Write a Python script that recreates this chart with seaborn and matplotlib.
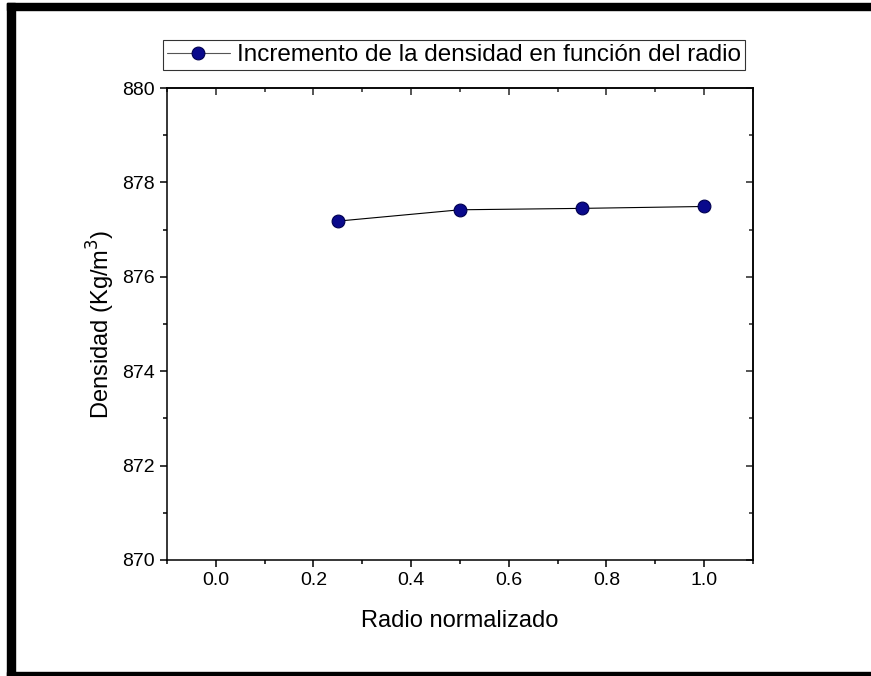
import matplotlib
matplotlib.use("Agg")
import matplotlib.pyplot as plt
import seaborn as sns
from matplotlib.patches import Rectangle
from matplotlib.ticker import MultipleLocator

# datos
radio = [0.25, 0.50, 0.75, 1.00]
densidad = [877.18, 877.42, 877.45, 877.49]
etiqueta = "Incremento de la densidad en función del radio"

sns.set_theme(style="ticks")
plt.rcParams["font.family"] = ["Liberation Sans", "DejaVu Sans"]
plt.rcParams["text.color"] = "black"
plt.rcParams["axes.labelcolor"] = "black"

fig = plt.figure(figsize=(8.71, 6.76), dpi=100)
ax = fig.add_axes([0.1917, 0.1716, 0.6728, 0.6982])

sns.lineplot(x=radio, y=densidad, ax=ax, color="black", linewidth=0.8,
             marker="o", markersize=9.2, markerfacecolor="#0a0a8c",
             markeredgecolor="#000050", markeredgewidth=0.8, label=etiqueta)

ax.set_xlim(-0.1, 1.1)
ax.set_ylim(870, 880)
ax.xaxis.set_major_locator(MultipleLocator(0.2))
ax.xaxis.set_minor_locator(MultipleLocator(0.1))
ax.yaxis.set_major_locator(MultipleLocator(2))
ax.yaxis.set_minor_locator(MultipleLocator(1))
ax.set_xticks([0.0, 0.2, 0.4, 0.6, 0.8, 1.0])
ax.set_xticklabels(["0.0", "0.2", "0.4", "0.6", "0.8", "1.0"])

for s in ax.spines.values():
    s.set_visible(True)
    s.set_linewidth(1.1)
    s.set_color("black")

ax.tick_params(which="both", direction="out", width=1.1, color="black",
               labelsize=14, labelcolor="black")
ax.tick_params(which="major", length=5)
ax.tick_params(which="minor", length=3)

# marcas espejo hacia dentro en arriba y derecha
ax_top = ax.secondary_xaxis("top")
ax_top.xaxis.set_major_locator(MultipleLocator(0.2))
ax_top.xaxis.set_minor_locator(MultipleLocator(0.1))
ax_top.tick_params(which="both", direction="in", width=1.1, labeltop=False)
ax_top.tick_params(which="major", length=5)
ax_top.tick_params(which="minor", length=3)
ax_right = ax.secondary_yaxis("right")
ax_right.yaxis.set_major_locator(MultipleLocator(2))
ax_right.yaxis.set_minor_locator(MultipleLocator(1))
ax_right.tick_params(which="both", direction="in", width=1.1, labelright=False)
ax_right.tick_params(which="major", length=5)
ax_right.tick_params(which="minor", length=3)

ax.set_xlabel("Radio normalizado", fontsize=17, labelpad=15)
ax.set_ylabel("Densidad (Kg/m$^3$)", fontsize=17, labelpad=4)

leg = ax.legend(loc="lower center", bbox_to_anchor=(0.49, 1.0), fontsize=17.5,
                frameon=True, fancybox=False, edgecolor="black",
                handlelength=2.6, handletextpad=0.3, borderpad=0.15,
                borderaxespad=0.75)
leg.get_frame().set_linewidth(0.8)
leg.get_lines()[0].set_color("#555555")

# marco negro del recuadro
fig.patches.append(Rectangle((7 / 871, 1 - 10 / 676), 864 / 871, 7 / 676,
                             transform=fig.transFigure, color="black"))
fig.patches.append(Rectangle((7 / 871, 0), 8 / 871, 1 - 3 / 676,
                             transform=fig.transFigure, color="black"))
fig.patches.append(Rectangle((7 / 871, 0), 864 / 871, 4 / 676,
                             transform=fig.transFigure, color="black"))

fig.savefig("out.png", dpi=100, facecolor="white")
